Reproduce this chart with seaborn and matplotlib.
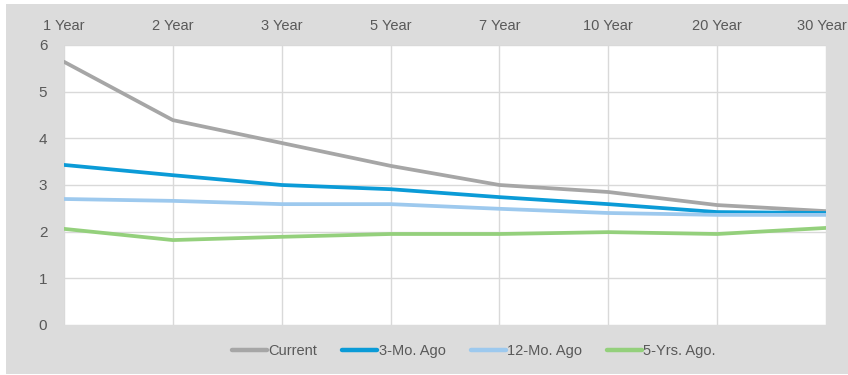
import matplotlib.pyplot as plt
from matplotlib.patches import Rectangle
from matplotlib.transforms import ScaledTranslation
import pandas as pd
import seaborn as sns

# treasury yield curve snapshots
terms = ["1 Year", "2 Year", "3 Year", "5 Year", "7 Year", "10 Year", "20 Year", "30 Year"]
current = [5.64, 4.39, 3.90, 3.41, 3.00, 2.85, 2.57, 2.44]
mo3_ago = [3.43, 3.21, 3.00, 2.91, 2.74, 2.59, 2.42, 2.40]
mo12_ago = [2.70, 2.66, 2.59, 2.59, 2.49, 2.40, 2.36, 2.36]
yrs5_ago = [2.06, 1.82, 1.89, 1.95, 1.95, 1.99, 1.95, 2.08]

series = ["Current", "3-Mo. Ago", "12-Mo. Ago", "5-Yrs. Ago."]
colors = ["#a6a6a6", "#0b9bd7", "#9dc9ee", "#94d07c"]

rows = []
for name, vals in zip(series, [current, mo3_ago, mo12_ago, yrs5_ago]):
    for i, v in enumerate(vals):
        rows.append({"pos": i, "term": terms[i], "yield": v, "series": name})
df = pd.DataFrame(rows)

sns.set_style("white")
plt.rcParams["font.family"] = ["Liberation Sans Narrow", "Liberation Sans", "DejaVu Sans"]
txt = "#595959"

fig = plt.figure(figsize=(8.48, 3.75), dpi=100, facecolor="white")
fig.patches.append(Rectangle((6 / 848, 1 / 375), 842 / 848, 370 / 375,
                             transform=fig.transFigure, facecolor="#dcdcdc",
                             edgecolor="none", zorder=-5))
ax = fig.add_axes([64 / 848, 50 / 375, 762 / 848, 280 / 375])
ax.set_facecolor("white")

sns.lineplot(data=df, x="pos", y="yield", hue="series", hue_order=series,
             palette=colors, linewidth=2.7, ax=ax, legend=False)

ax.set_xlim(0, 7)
ax.set_ylim(0, 6)
ax.set_xticks(range(len(terms)))
ax.set_xticklabels(terms)
ax.set_yticks(range(7))
ax.xaxis.tick_top()
ax.tick_params(axis="x", length=0, pad=9, labelsize=10.5, labelcolor=txt)
ax.tick_params(axis="y", length=0, pad=12, labelsize=11, labelcolor=txt)
ax.grid(True, color="#d9d9d9", linewidth=1)
ax.set_axisbelow(True)
for s in ax.spines.values():
    s.set_visible(False)
ax.set_xlabel("")
ax.set_ylabel("")

# nudge the last top label so it stays inside the frame
last = ax.get_xticklabels()[-1]
last.set_transform(last.get_transform() + ScaledTranslation(-4 / 100, 0, fig.dpi_scale_trans))

handles = [plt.Line2D([], [], color=c, linewidth=3.2) for c in colors]
fig.legend(handles, series, loc="center", bbox_to_anchor=(474 / 848, 24 / 375),
           ncol=4, frameon=False, handlelength=2.4, handletextpad=0.1,
           columnspacing=1.7, fontsize=10.5, labelcolor=txt)

fig.savefig("out.png", dpi=100, facecolor="white")
